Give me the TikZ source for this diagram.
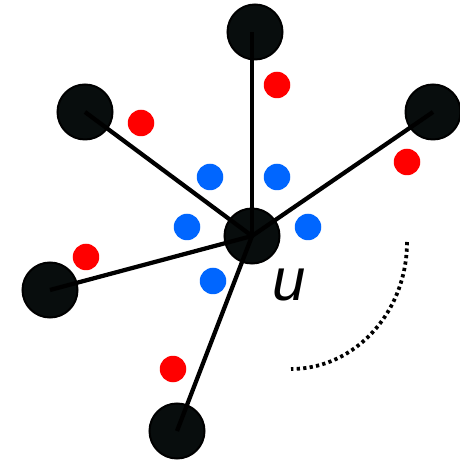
\documentclass[tikz,border=0pt]{standalone}
\usepackage{fontspec}
\setsansfont{Liberation Sans}
\usepackage{tikz}
\usetikzlibrary{positioning}
\definecolor{vertexfill}{RGB}{8,13,13}
\definecolor{tokenred}{RGB}{255,0,0}
\definecolor{tokenblue}{RGB}{0,102,255}
\tikzstyle{every node}+=[inner sep=0pt]
\tikzstyle{vertex} = [circle, draw=black, fill=vertexfill, line width=0.04cm, minimum size=1.1cm]
\tikzstyle{token} = [circle, minimum size=0.53cm]
\tikzstyle{line} = [draw, line width=0.085cm]
\tikzstyle{sweep} = [draw, line width=0.075cm, dash pattern=on 0.065cm off 0.065cm]
\tikzstyle{vertexname} = [font=\sffamily\itshape\fontsize{34}{34}\selectfont]

\begin{document}
\begin{tikzpicture}[node distance = 2cm]
            \useasboundingbox (-5.04,-4.50) rectangle (4.14,4.72);
            % Place nodes
            \node [vertex] (u) {};
            \node [vertex, above of=u, node distance=4.08cm, xshift=0.06cm] (n0) {};
            \node [vertex, above of=u, node distance=2.48cm, xshift=-3.34cm] (n1) {};
            \node [vertex, above of=u, node distance=2.48cm, xshift=3.62cm] (n2) {};
            \node [vertex, left of=u, node distance=4.04cm, yshift=-1.08cm] (n3) {};
            \node [vertex, below of=u, node distance=3.90cm, xshift=-1.50cm] (n4) {};
            \node [vertexname, below of=u, node distance=0.98cm, xshift=0.74cm] (lu) {u};
            % Place red tokens
            \node [token, fill=tokenred, above of=u, node distance=3.02cm, xshift=0.50cm] (r0) {};
            \node [token, fill=tokenred, above of=u, node distance=2.26cm, xshift=-2.22cm] (r1) {};
            \node [token, fill=tokenred, above of=u, node distance=1.48cm, xshift=3.10cm] (r2) {};
            \node [token, fill=tokenred, left of=u, node distance=3.32cm, yshift=-0.42cm] (r3) {};
            \node [token, fill=tokenred, below of=u, node distance=2.66cm, xshift=-1.58cm] (r4) {};
            % Place blue tokens
            \node [token, fill=tokenblue, above of=u, node distance=1.18cm, xshift=-0.84cm] (b0) {};
            \node [token, fill=tokenblue, above of=u, node distance=1.18cm, xshift=0.50cm] (b1) {};
            \node [token, fill=tokenblue, left of=u, node distance=1.30cm, yshift=0.18cm] (b2) {};
            \node [token, fill=tokenblue, right of=u, node distance=1.12cm, yshift=0.18cm] (b3) {};
            \node [token, fill=tokenblue, below of=u, node distance=0.90cm, xshift=-0.78cm] (b4) {};
            % Draw edges
            \path [line] (u.center) -- ([xshift=-0.06cm]n0.center);
            \path [line] (u.center) -- (n1.center);
            \path [line] (u.center) -- (n2.center);
            \path [line] (u.center) -- (n3.center);
            \path [line] (u.center) -- (n4.center);
            \path [sweep] (u.center) ++(3.10,-0.12) arc [start angle=0, end angle=-90, x radius=2.32cm, y radius=2.54cm];
          \end{tikzpicture}
\end{document}
